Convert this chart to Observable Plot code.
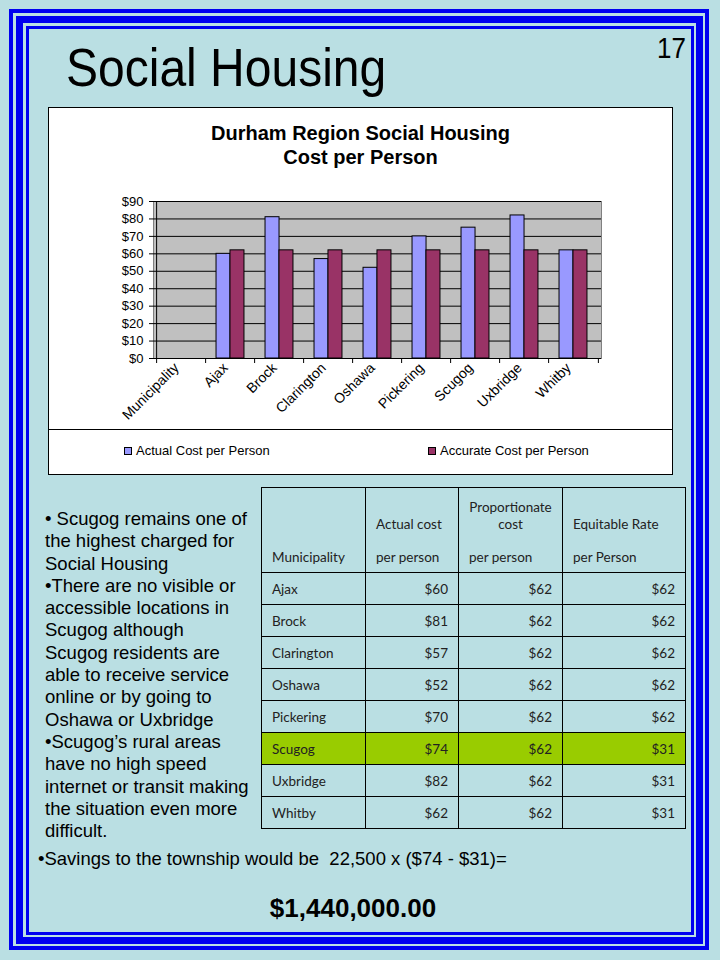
<!DOCTYPE html>
<html><head><meta charset="utf-8">
<script src="https://cdn.jsdelivr.net/npm/d3@7"></script>
<script src="https://cdn.jsdelivr.net/npm/@observablehq/plot@0.6"></script>
<style>
html,body{margin:0;padding:0;}
body{width:720px;height:960px;background:#BADFE3;position:relative;overflow:hidden;font-family:"Liberation Sans",Arial,sans-serif;color:#000;}
.band{position:absolute;border-style:solid;border-color:#0000F0;box-sizing:border-box;}
.abs{position:absolute;white-space:nowrap;}
#chartbox{position:absolute;left:48px;top:107px;width:625px;height:368px;background:#fff;border:1px solid #000;box-sizing:border-box;}
#sep{position:absolute;left:48px;top:429px;width:625px;height:1px;background:#000;}
#plot{position:absolute;left:48px;top:185px;}
.sw{position:absolute;width:8px;height:8px;border:1px solid #000;box-sizing:border-box;}
table{position:absolute;left:261px;top:487px;border-collapse:collapse;font-family:Lato,"Open Sans",sans-serif;font-size:13.5px;color:#222;}
td{border:1px solid #000;padding:0 10px;height:31px;vertical-align:middle;white-space:nowrap;}
td.num{text-align:right;}
tr.hdr td{height:78px;vertical-align:bottom;padding-bottom:6px;line-height:16.7px;}
tr.hl td{background:#99CC00;}
</style></head><body>
<div class="band" style="left:9px;top:9px;right:11px;bottom:10px;border-width:4px"></div>
<div class="band" style="left:16px;top:16px;right:17px;bottom:16px;border-width:7px"></div>
<div class="band" style="left:26px;top:26px;right:26px;bottom:25px;border-width:3px"></div>

<div class="abs" id="title" style="left:66px;top:47px;font-size:48px;line-height:48px;transform:scaleY(1.1);transform-origin:left bottom;"></div>
<div class="abs" id="pagenum" style="left:657px;top:36px;font-size:26px;line-height:26px;transform:scaleY(1.1);transform-origin:left bottom;"></div>

<div id="chartbox"></div>
<div id="sep"></div>
<div class="abs" id="ctitle" style="left:48px;width:625px;top:122px;text-align:center;font-weight:bold;font-size:20px;line-height:23.5px;"></div>
<div id="plot"></div>
<div id="legend"></div>

<div class="abs" id="bullets" style="left:45px;top:508px;font-size:18.5px;line-height:22.3px;"></div>
<div class="abs" id="savings" style="left:38px;top:848px;font-size:18.5px;line-height:22px;"></div>
<div class="abs" id="total" style="left:203px;width:300px;top:893px;text-align:center;font-weight:bold;font-size:26px;line-height:30px;"></div>

<table id="tbl"></table>

<script>
// ---- data ----
const slideTitle = "Social Housing";
const pageNumber = "17";
const chartTitleLines = ["Durham Region Social Housing", "Cost per Person"];
const categories = ["Municipality","Ajax","Brock","Clarington","Oshawa","Pickering","Scugog","Uxbridge","Whitby"];
const seriesNames = ["Actual Cost per Person","Accurate Cost per Person"];
const actualCost = [null,60,81,57,52,70,75,82,62];
const accurateCost = [null,62,62,62,62,62,62,62,62];
const yTicks = [0,10,20,30,40,50,60,70,80,90];

const tableMunicipalities = ["Ajax","Brock","Clarington","Oshawa","Pickering","Scugog","Uxbridge","Whitby"];
const tableActual = [60,81,57,52,70,74,82,62];
const tableProportionate = [62,62,62,62,62,62,62,62];
const tableEquitable = [62,62,62,62,62,31,31,31];
const highlightMunicipality = "Scugog";

const bulletLines = [
  "\u2022 Scugog remains one of","the highest charged for","Social Housing",
  "\u2022There are no visible or","accessible locations in","Scugog although",
  "Scugog residents are","able to receive service","online or by going to",
  "Oshawa or Uxbridge","\u2022Scugog\u2019s rural areas","have no high speed",
  "internet or transit making","the situation even more","difficult."
];
const savingsText = "\u2022Savings to the township would be\u00a0 22,500 x ($74 - $31)=";
const totalText = "$1,440,000.00";

// ---- styles ----
const seriesColors = ["#9999FF","#993366"];

// ---- text ----
document.getElementById("title").textContent = slideTitle;
document.getElementById("pagenum").textContent = pageNumber;
document.getElementById("ctitle").innerHTML = chartTitleLines.join("<br>");
document.getElementById("bullets").innerHTML = bulletLines.join("<br>");
document.getElementById("savings").textContent = savingsText;
document.getElementById("total").textContent = totalText;

// ---- legend ----
const legend = document.getElementById("legend");
const legendX = [124, 428];
seriesNames.forEach((s,i)=>{
  const sw = document.createElement("div");
  sw.className = "sw";
  sw.style.left = legendX[i]+"px"; sw.style.top = "447px"; sw.style.background = seriesColors[i];
  legend.appendChild(sw);
  const t = document.createElement("div");
  t.className = "abs";
  t.style.left = (legendX[i]+12)+"px"; t.style.top = "443px"; t.style.fontSize = "13px"; t.style.lineHeight = "16px";
  t.textContent = s;
  legend.appendChild(t);
});

// ---- chart ----
const W=624,H=240,ML=105,MR=71,MT=16,MB=67;
const step=(W-ML-MR)/categories.length;
const PAD=0.72;
const bw=step*(1-PAD);
const rows = categories.flatMap((c,i)=>[
  {category:c, series:seriesNames[0], value:actualCost[i]},
  {category:c, series:seriesNames[1], value:accurateCost[i]}
]).filter(d=>d.value!=null);

const chart = Plot.plot({
  width:W,height:H,marginLeft:ML,marginRight:MR,marginTop:MT,marginBottom:MB,
  style:{background:"transparent",fontFamily:'"Liberation Sans", Arial, sans-serif',fontSize:"13px",color:"#000",overflow:"visible"},
  x:{type:"band",domain:categories,paddingInner:PAD,paddingOuter:PAD/2,label:null},
  y:{domain:[0,90],label:null},
  color:{domain:seriesNames,range:seriesColors},
  marks:[
    Plot.frame({fill:"#C0C0C0",stroke:"#808080"}),
    Plot.gridY(yTicks.filter(v=>v>0),{stroke:"#000",strokeOpacity:1}),
    Plot.barY(rows.filter(d=>d.series===seriesNames[0]),{x:"category",y:"value",fill:"series",stroke:"#000",strokeWidth:1,dx:-bw/2}),
    Plot.barY(rows.filter(d=>d.series===seriesNames[1]),{x:"category",y:"value",fill:"series",stroke:"#000",strokeWidth:1,dx:bw/2}),
    Plot.ruleY([0],{stroke:"#000"}),
    Plot.ruleX([categories[0]],{dx:-step/2,stroke:"#000"}),
    Plot.axisY({ticks:yTicks,tickFormat:d=>"$"+d,tickSize:4,tickPadding:6,fontSize:13}),
    Plot.axisX({ticks:categories,tickSize:5,tickFormat:()=>"",dx:-step/2}),
    Plot.axisX({ticks:[categories[categories.length-1]],tickSize:5,tickFormat:()=>"",dx:step/2}),
    Plot.axisX({ticks:categories,tickSize:0,tickRotate:-45,tickPadding:7,fontSize:14,dx:-5})
  ]
});
document.getElementById("plot").appendChild(chart);

// ---- table ----
const tbl = document.getElementById("tbl");
const colW = [104,93,104,123];
let html = "<colgroup>"+colW.map(w=>`<col style="width:${w}px">`).join("")+"</colgroup>";
html += `<tr class="hdr">
<td>Municipality</td>
<td>Actual cost<br>&nbsp;<br>per person</td>
<td><div style="text-align:center">Proportionate<br>cost</div>&nbsp;<br>per person</td>
<td>Equitable Rate<br>&nbsp;<br>per Person</td></tr>`;
tableMunicipalities.forEach((m,i)=>{
  html += `<tr class="${m===highlightMunicipality?"hl":""}"><td>${m}</td><td class="num">$${tableActual[i]}</td><td class="num">$${tableProportionate[i]}</td><td class="num">$${tableEquitable[i]}</td></tr>`;
});
tbl.innerHTML = html;
</script>
</body></html>
